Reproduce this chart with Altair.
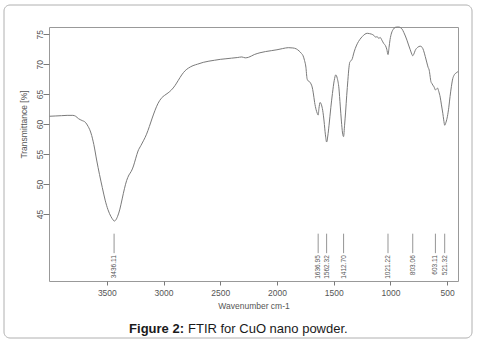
import altair as alt
import pandas as pd

# Spectrum (wavenumber cm-1, transmittance %)
wavenumber = [4005, 3950, 3900, 3850, 3800, 3775, 3750, 3720, 3690, 3665, 3640, 3615, 3590, 3565, 3540, 3515, 3490, 3465, 3445, 3436, 3425, 3405, 3385, 3365, 3345, 3325, 3305, 3285, 3265, 3245, 3225, 3200, 3175, 3150, 3125, 3100, 3075, 3050, 3020, 2990, 2960, 2930, 2900, 2870, 2840, 2810, 2780, 2740, 2700, 2650, 2600, 2550, 2500, 2450, 2400, 2350, 2310, 2280, 2250, 2200, 2150, 2100, 2050, 2000, 1950, 1900, 1860, 1830, 1805, 1785, 1770, 1757, 1745, 1735, 1725, 1712, 1700, 1690, 1680, 1668, 1655, 1645, 1637, 1630, 1620, 1608, 1597, 1585, 1573, 1562, 1552, 1541, 1525, 1511, 1495, 1482, 1468, 1454, 1442, 1432, 1422, 1413, 1404, 1395, 1385, 1375, 1365, 1357, 1345, 1336, 1325, 1310, 1292, 1270, 1248, 1225, 1204, 1185, 1165, 1146, 1130, 1117, 1103, 1090, 1075, 1059, 1044, 1032, 1021, 1012, 1003, 990, 975, 956, 940, 927, 912, 897, 882, 868, 854, 840, 825, 812, 803, 793, 781, 760, 737, 720, 708, 693, 678, 668, 658, 650, 643, 635, 626, 615, 603, 595, 585, 573, 561, 550, 538, 530, 521, 510, 497, 485, 474, 462, 450, 440, 430, 420, 410, 404]
transmittance = [61.3, 61.35, 61.4, 61.45, 61.45, 61.3, 60.9, 60.6, 60.3, 59.6, 58.5, 56.6, 54.0, 51.6, 49.4, 47.3, 45.7, 44.6, 44.0, 43.8, 43.9, 44.6, 45.8, 47.5, 49.2, 50.6, 51.5, 52.1, 53.0, 54.3, 55.5, 56.4, 57.3, 58.3, 59.6, 61.0, 62.3, 63.4, 64.3, 64.8, 65.2, 65.7, 66.4, 67.3, 68.2, 68.9, 69.35, 69.75, 70.0, 70.3, 70.5, 70.65, 70.8, 70.9, 71.0, 71.1, 71.2, 71.05, 71.15, 71.6, 71.9, 72.1, 72.25, 72.4, 72.6, 72.75, 72.7, 72.55, 72.2, 71.8, 71.4, 70.6, 69.5, 67.6, 67.2, 67.05, 66.7, 66.2, 65.2, 63.6, 62.4, 61.8, 61.5, 62.6, 63.6, 63.2, 62.3, 60.5, 58.2, 57.0, 58.0, 59.8, 62.8, 65.1, 67.3, 68.2, 67.6, 66.0, 63.0, 60.5, 58.5, 57.9, 59.8, 62.0, 64.8, 67.3, 69.5, 70.4, 70.6, 70.9, 71.7, 72.6, 73.4, 74.1, 74.6, 75.0, 75.15, 75.1, 75.0, 74.8, 74.5, 74.6, 74.3, 74.45, 74.0, 73.45, 73.1, 72.5, 71.6, 72.8, 74.1, 75.2, 75.8, 76.15, 76.2, 76.2, 76.1, 75.85, 75.3, 74.7, 74.0, 73.2, 72.4, 71.7, 71.4, 71.7, 72.3, 72.8, 73.0, 72.8, 72.3, 71.3, 70.2, 69.5, 69.0, 68.0, 67.1, 66.8, 66.5, 66.2, 65.7, 65.8, 66.0, 65.4, 64.5, 63.2, 61.8, 60.7, 59.8, 60.3, 61.3, 62.8, 64.6, 66.3, 67.6, 68.1, 68.4, 68.5, 68.7, 68.8]

# Peak annotations
peak_positions = [3436.11, 1636.95, 1562.32, 1412.70, 1021.22, 803.06, 603.11, 521.32]
peak_labels = ["3436.11", "1636.95", "1562.32", "1412.70", "1021.22", "803.06", "603.11", "521.32"]

x_ticks = [3500, 3000, 2500, 2000, 1500, 1000, 500]
y_ticks = [45, 50, 55, 60, 65, 70, 75]

spec = pd.DataFrame({"wn": wavenumber, "t": transmittance})
peaks = pd.DataFrame({"wn": peak_positions, "label": peak_labels})

FONT = "Liberation Sans"
GRAY = "#7a7a7a"

xscale = alt.Scale(domain=[404, 4010], reverse=True, nice=False, zero=False)
yscale = alt.Scale(domain=[33.8, 76.2], nice=False, zero=False)

x_enc = alt.X("wn:Q", scale=xscale, axis=alt.Axis(
    values=x_ticks, title="Wavenumber cm-1", format="d", tickSize=4, labelPadding=3,
    domain=False, ticks=True, tickColor=GRAY, labelColor="#555", labelFont=FONT,
    labelFontSize=8.5, titleFont=FONT, titleFontSize=8.5, titleFontWeight="normal",
    titleColor="#555", titlePadding=5, grid=False))
y_enc = alt.Y("t:Q", scale=yscale, axis=alt.Axis(
    values=y_ticks, title="Transmittance [%]", tickSize=6, labelPadding=-1,
    labelAngle=270, labelAlign="center", labelBaseline="bottom",
    domain=False, tickColor=GRAY, labelColor="#555", labelFont=FONT,
    labelFontSize=8.5, titleFont=FONT, titleFontSize=8.5, titleFontWeight="normal",
    titleColor="#555", titleX=-21, titleY=97, titleAngle=270, grid=False))

line = alt.Chart(spec).mark_line(color=GRAY, strokeWidth=1, interpolate="monotone").encode(
    x=x_enc, y=y_enc)

rules = alt.Chart(peaks).mark_rule(color=GRAY, strokeWidth=0.8).encode(
    x=alt.X("wn:Q", scale=xscale), y=alt.datum(41.7), y2=alt.datum(38.45))

labels = alt.Chart(peaks).mark_text(angle=270, align="right", baseline="middle",
                                    font=FONT, fontSize=6.5, color="#555").encode(
    x=alt.X("wn:Q", scale=xscale), y=alt.datum(38.1), text="label:N")

one = pd.DataFrame({"k": [0]})
box = alt.Chart(one).mark_rect(fill=None, stroke="#b0b0b0", strokeWidth=1, cornerRadius=6).encode(
    x=alt.value(-45), x2=alt.value(423), y=alt.value(-22), y2=alt.value(311))

cap1 = alt.Chart(one).mark_text(align="right", baseline="middle", font=FONT, fontSize=13,
                                fontWeight="bold", color="#1a1a1a").encode(
    x=alt.value(135), y=alt.value(301.5), text=alt.value("Figure 2:"))
cap2 = alt.Chart(one).mark_text(align="left", baseline="middle", font=FONT, fontSize=13,
                                color="#1a1a1a").encode(
    x=alt.value(139), y=alt.value(301.5), text=alt.value("FTIR for CuO nano powder."))

chart = alt.layer(box, line, rules, labels, cap1, cap2).properties(
    width=409, height=254,
    autosize=alt.AutoSizeParams(type="none"),
    padding={"left": 49, "top": 27, "right": 24, "bottom": 70},
    background="white",
).configure_view(stroke="#999", strokeWidth=1)

chart.save("out.html", embed_options={"renderer": "svg", "actions": False})
